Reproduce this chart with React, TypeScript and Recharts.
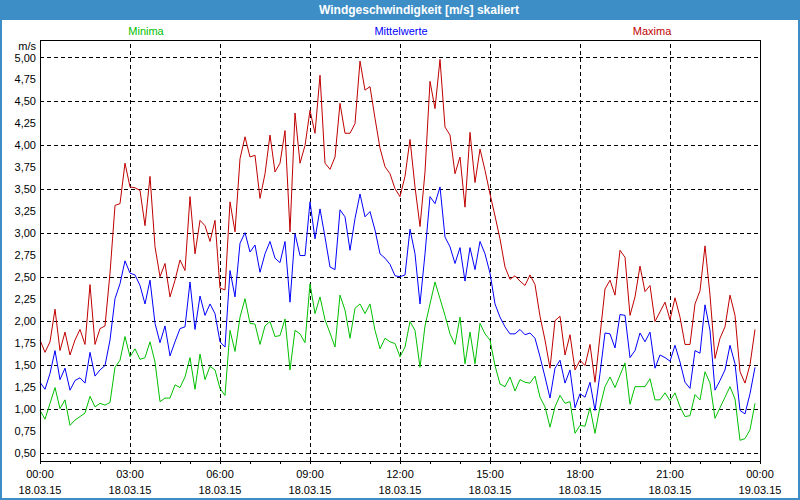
import React from 'react';
import {
  LineChart,
  Line,
  XAxis,
  YAxis,
  CartesianGrid,
  ReferenceLine,
  ReferenceArea,
} from 'recharts';

// ─── Data (10-minute values, 18.03.15) ───────────────────────────────────────

const STEP_MIN = 10;

const MINIMA = [
  0.99, 0.89, 1.07, 1.25, 1.01, 1.11, 0.82, 0.88, 0.92, 0.96, 1.15, 1.03, 1.07, 1.05, 1.08, 1.48, 1.56, 1.83, 1.6,
  1.69, 1.57, 1.59, 1.77, 1.54, 1.09, 1.13, 1.13, 1.28, 1.25, 1.37, 1.59, 1.23, 1.63, 1.34, 1.49, 1.45, 1.24,
  1.16, 1.9, 1.66, 2.05, 2.26, 1.98, 1.97, 1.74, 1.95, 2.0, 1.83, 1.84, 2.03, 1.45, 1.9, 1.86, 1.76, 2.43,
  2.09, 2.28, 2.02, 1.87, 1.71, 2.3, 2.13, 1.81, 2.15, 2.2, 2.09, 2.2, 1.9, 1.69, 1.81, 1.77, 1.75, 1.6,
  1.71, 2.0, 1.9, 1.48, 1.95, 2.2, 2.45, 2.26, 2.07, 1.86, 1.74, 2.05, 1.52, 1.88, 1.52, 1.98, 1.86, 1.79,
  1.5, 1.29, 1.26, 1.37, 1.21, 1.34, 1.31, 1.3, 1.38, 1.14, 1.03, 0.8, 1.03, 1.16, 1.07, 1.09, 0.73, 0.82,
  0.81, 1.02, 0.73, 1.03, 1.26, 1.37, 1.25, 1.39, 1.53, 1.06, 1.26, 1.26, 1.26, 1.35, 1.11, 1.11, 1.19, 1.1,
  1.19, 1.03, 0.92, 0.93, 1.17, 1.11, 1.43, 1.3, 0.9, 1.02, 1.14, 1.26, 1.12, 0.65, 0.67, 0.77, 1.07,
];

const MITTELWERTE = [
  1.31, 1.23, 1.41, 1.67, 1.34, 1.47, 1.22, 1.33, 1.36, 1.3, 1.65, 1.38, 1.45, 1.5, 1.79, 2.26, 2.43, 2.69, 2.55,
  2.53, 2.41, 2.2, 2.47, 1.98, 1.76, 1.95, 1.61, 1.77, 1.92, 1.94, 2.45, 1.91, 2.29, 2.07, 2.2, 2.09, 1.77,
  1.71, 2.58, 2.28, 2.89, 3.01, 2.79, 2.87, 2.56, 2.77, 2.91, 2.72, 2.67, 2.91, 2.22, 3.0, 2.75, 2.75, 3.36,
  2.94, 3.28, 2.96, 2.62, 2.59, 3.27, 3.19, 2.81, 3.17, 3.45, 3.19, 3.25, 3.04, 2.77, 2.72, 2.65, 2.52, 2.51,
  2.53, 3.05, 2.77, 2.2, 2.77, 3.42, 3.34, 3.53, 2.96, 2.85, 2.66, 2.84, 2.46, 2.84, 2.59, 2.91, 2.77, 2.55,
  2.2, 2.05, 1.94, 1.86, 1.86, 1.91, 1.85, 1.87, 1.81, 1.6, 1.37, 1.13, 1.47, 1.56, 1.3, 1.45, 1.02, 1.18,
  1.14, 1.31, 0.99, 1.41, 1.87, 1.86, 1.7, 2.08, 2.07, 1.59, 1.67, 1.87, 1.77, 1.88, 1.47, 1.62, 1.59, 1.55,
  1.73, 1.54, 1.31, 1.24, 1.67, 1.64, 2.19, 1.9, 1.22, 1.33, 1.45, 1.73, 1.52, 0.99, 0.95, 1.18, 1.48,
];

const MAXIMA = [
  1.79, 1.65, 1.77, 2.14, 1.67, 1.88, 1.62, 1.79, 1.91, 1.74, 2.42, 1.74, 1.92, 1.95, 2.55, 3.32, 3.34, 3.8, 3.53,
  3.52, 3.49, 3.09, 3.65, 2.85, 2.51, 2.66, 2.28, 2.47, 2.7, 2.58, 3.42, 2.77, 3.15, 3.09, 2.91, 3.15, 2.38,
  2.36, 3.36, 3.02, 3.85, 4.1, 3.87, 3.89, 3.4, 3.68, 4.12, 3.7, 3.8, 4.17, 3.02, 4.37, 3.8, 4.0, 4.4,
  4.14, 4.8, 3.8, 3.73, 3.87, 4.48, 4.14, 4.14, 4.25, 4.96, 4.63, 4.67, 4.31, 3.97, 3.76, 3.68, 3.51, 3.42,
  3.65, 4.07, 3.53, 3.08, 3.7, 4.73, 4.42, 4.98, 4.21, 4.12, 3.68, 3.87, 3.3, 4.15, 3.58, 3.96, 3.72, 3.45,
  3.2, 2.94, 2.62, 2.48, 2.52, 2.46, 2.41, 2.53, 2.42, 2.06, 1.79, 1.47, 2.01, 2.06, 1.62, 1.85, 1.45, 1.56,
  1.5, 1.74, 1.31, 1.84, 2.37, 2.47, 2.3, 2.81, 2.73, 2.07, 2.28, 2.63, 2.34, 2.41, 2.0, 2.11, 2.22, 2.02,
  2.27, 2.05, 1.74, 1.74, 2.2, 2.35, 2.86, 2.3, 1.58, 1.81, 1.94, 2.3, 2.07, 1.43, 1.3, 1.51, 1.91,
];

const X_TICK_TIMES = ['00:00', '03:00', '06:00', '09:00', '12:00', '15:00', '18:00', '21:00', '00:00'];
const X_TICK_DATES = [
  '18.03.15', '18.03.15', '18.03.15', '18.03.15', '18.03.15',
  '18.03.15', '18.03.15', '18.03.15', '19.03.15',
];
const Y_TICKS = [0.5, 0.75, 1.0, 1.25, 1.5, 1.75, 2.0, 2.25, 2.5, 2.75, 3.0, 3.25, 3.5, 3.75, 4.0, 4.25, 4.5, 4.75, 5.0];

const Y_MIN = 0.415;
const Y_MAX = 5.2;
const X_MAX = 24 * 60;

const HOUR_TICKS = Array.from({ length: 25 }, (_, h) => h * 60);
const MAJOR_TICKS = HOUR_TICKS.filter((t) => t % 180 === 0);

const data = MAXIMA.map((_, i) => ({
  t: i * STEP_MIN,
  min: MINIMA[i],
  mean: MITTELWERTE[i],
  max: MAXIMA[i],
}));

const FONT = '"Liberation Sans", Arial, sans-serif';
const FRAME_BLUE = '#3d8ec6';

// ─── Ticks ────────────────────────────────────────────────────────────────────

function TimeTick(props: any) {
  const { x, y, payload } = props;
  const idx = payload.value / 180;
  const major = payload.value % 180 === 0;
  return (
    <g>
      <line x1={x} x2={x} y1={y} y2={y + 3} stroke="#000" shapeRendering="crispEdges" />
      {major && (
        <text x={x} textAnchor="middle" fontSize={11} fontFamily={FONT} fill="#000">
          <tspan x={x} y={y + 17}>{X_TICK_TIMES[idx]}</tspan>
          <tspan x={x} y={y + 33}>{X_TICK_DATES[idx]}</tspan>
        </text>
      )}
    </g>
  );
}

const fmtY = (v: number) => v.toFixed(2).replace('.', ',');

// ─── Chart ────────────────────────────────────────────────────────────────────

export default function App() {
  return (
    <div style={{ position: 'relative', width: 800, height: 500, background: '#fff', fontFamily: FONT }}>
      <style>{'body{margin:0}'}</style>

      <LineChart
        width={800}
        height={500}
        data={data}
        margin={{ top: 40, right: 40, left: 0, bottom: 0 }}
      >
        <CartesianGrid vertical={false} stroke="#000" strokeDasharray="4 3" shapeRendering="crispEdges" />
        {MAJOR_TICKS.slice(1, -1).map((t) => (
          <ReferenceLine key={t} x={t} stroke="#000" strokeDasharray="4 3" shapeRendering="crispEdges" />
        ))}
        <XAxis
          dataKey="t"
          type="number"
          domain={[0, X_MAX]}
          ticks={HOUR_TICKS}
          interval={0}
          height={39}
          axisLine={{ stroke: '#000', shapeRendering: 'crispEdges' }}
          tickLine={false}
          tickSize={0}
          tickMargin={0}
          tick={<TimeTick />}
        />
        <YAxis
          type="number"
          domain={[Y_MIN, Y_MAX]}
          ticks={Y_TICKS}
          allowDataOverflow
          width={40}
          axisLine={{ stroke: '#000', shapeRendering: 'crispEdges' }}
          tickLine={false}
          tickSize={0}
          tickMargin={4}
          tickFormatter={fmtY}
          tick={{ fontSize: 11, fill: '#000', fontFamily: FONT }}
        />
        <ReferenceArea
          x1={0}
          x2={X_MAX}
          y1={Y_MIN}
          y2={Y_MAX}
          fill="none"
          stroke="#000"
          strokeOpacity={1}
          shapeRendering="crispEdges"
          ifOverflow="visible"
        />
        <Line type="linear" dataKey="min" stroke="#00c000" strokeWidth={1} dot={false} isAnimationActive={false} />
        <Line type="linear" dataKey="mean" stroke="#0000ff" strokeWidth={1} dot={false} isAnimationActive={false} />
        <Line type="linear" dataKey="max" stroke="#c00000" strokeWidth={1} dot={false} isAnimationActive={false} />
      </LineChart>

      {/* title bar + window border */}
      <div
        style={{
          position: 'absolute', left: 0, top: 0, width: 800, height: 20, background: FRAME_BLUE,
          color: '#fff', fontWeight: 'bold', fontSize: 12, lineHeight: '20px',
        }}
      >
        <span style={{ position: 'absolute', left: 419, transform: 'translateX(-50%)', whiteSpace: 'nowrap' }}>
          Windgeschwindigkeit [m/s] skaliert
        </span>
      </div>
      <div
        style={{
          position: 'absolute', left: 0, top: 0, width: 800, height: 500, boxSizing: 'border-box',
          borderLeft: `2px solid ${FRAME_BLUE}`, borderRight: `2px solid ${FRAME_BLUE}`,
          borderBottom: `2px solid ${FRAME_BLUE}`, pointerEvents: 'none',
        }}
      />

      {/* series labels */}
      {[
        { name: 'Minima', color: '#00c000', cx: 146 },
        { name: 'Mittelwerte', color: '#0000ff', cx: 401 },
        { name: 'Maxima', color: '#c00000', cx: 652 },
      ].map((s) => (
        <span
          key={s.name}
          style={{
            position: 'absolute', left: s.cx, top: 25, transform: 'translateX(-50%)',
            fontSize: 11, color: s.color, whiteSpace: 'nowrap', lineHeight: '13px',
          }}
        >
          {s.name}
        </span>
      ))}

      <span style={{ position: 'absolute', right: 764, top: 40, fontSize: 11, lineHeight: '13px', color: '#000' }}>
        m/s
      </span>
    </div>
  );
}
